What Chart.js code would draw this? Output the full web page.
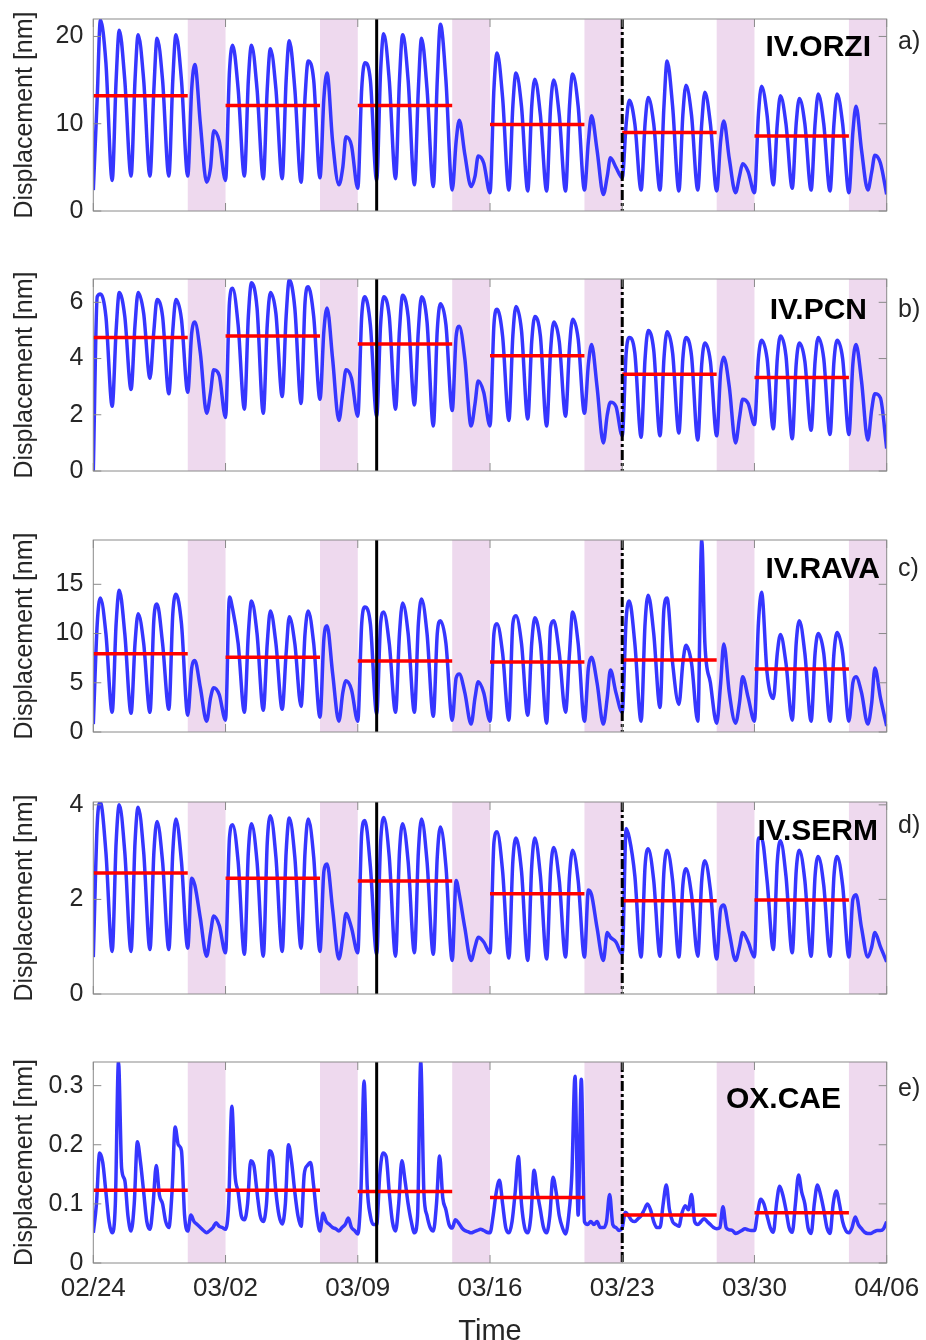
<!DOCTYPE html>
<html>
<head>
<meta charset="utf-8">
<script src="https://cdn.jsdelivr.net/npm/chart.js@4.4.1/dist/chart.umd.min.js"></script>
<style>
  html, body { margin: 0; padding: 0; background: #fff; }
  body { position: relative; width: 926px; height: 1340px; overflow: hidden; }
  canvas { position: absolute; left: 0; }
</style>
</head>
<body>
<script>
// ---- data (days since 02/24, 00:00) ----
const dayTicks = [0, 7, 14, 21, 28, 35, 42];
const dateLabels = ['02/24', '03/02', '03/09', '03/16', '03/23', '03/30', '04/06'];
const weekendSpans = [[5, 7], [12, 14], [19, 21], [26, 28], [33, 35], [40, 42]];
const weekdaySpans = [[0, 5], [7, 12], [14, 19], [21, 26], [28, 33], [35, 40]];
const eventDays = [15, 28]; // solid line, dash-dot line

const stations = ['IV.ORZI', 'IV.PCN', 'IV.RAVA', 'IV.SERM', 'OX.CAE'];
const panelTags = ['a)', 'b)', 'c)', 'd)', 'e)'];
const yTickValues = [[0, 10, 20], [0, 2, 4, 6], [0, 5, 10, 15], [0, 2, 4], [0, 0.1, 0.2, 0.3]];
const yMax = [22, 6.83, 19.5, 4.06, 0.34];

// sample hours inside each day
const hours4 = [0, 5, 9, 16];
const hours6 = [0, 4, 8, 12, 16, 20];

const orzi = [
  2.4, 13, 21.9, 17,   3.5, 15, 20.7, 15,   4.0, 15, 20.2, 15,   4.0, 14, 19.8, 15,
  4.0, 15, 20.2, 15,   4.0, 14, 16.8, 10,   3.3, 5, 9.2, 8,      3.5, 16, 19.0, 14,
  4.0, 15, 19.0, 14,   3.7, 14, 18.6, 14,   3.7, 15, 19.5, 14,   3.3, 13, 17.2, 15,
  3.8, 13, 15.8, 8,    3.0, 5, 8.5, 7.5,    2.6, 14, 17.0, 15,   3.5, 16, 20.3, 15,
  3.7, 15, 20.2, 15,   3.0, 14, 19.8, 14,   2.8, 15, 21.4, 15,   2.4, 8, 10.4, 6.5,
  2.8, 4, 6.3, 5.5,    2.1, 14, 18.1, 13,   2.4, 12, 15.8, 12,   2.3, 12, 15.1, 11,
  2.3, 12, 15.0, 11,   2.3, 12, 15.7, 12,   2.4, 8, 10.9, 7,     1.9, 4, 6.1, 5,
  3.8, 10, 12.7, 10,   2.4, 10, 13.0, 10,   2.4, 12, 17.2, 12,   2.3, 11, 14.4, 11,
  2.4, 10, 13.6, 10,   2.3, 8, 10.3, 6,     2.1, 4, 5.4, 4.5,    2.1, 11, 14.3, 11,
  3.0, 10, 13.2, 10,   2.6, 10, 12.9, 10,   2.4, 10, 13.4, 10,   2.3, 10, 13.4, 10,
  2.1, 9, 12.0, 7,     2.4, 4.5, 6.4, 5.5,
  1.9
];
const pcn = [
  0, 6.2, 6.3, 5.5,      2.3, 5.0, 6.35, 5.5,   2.9, 5.2, 6.35, 5.6,   3.3, 5.0, 6.1, 5.5,
  2.75, 5.0, 6.1, 5.4,   2.8, 4.9, 5.3, 4.2,    2.05, 2.8, 3.6, 3.4,   1.9, 6.0, 6.5, 5.2,
  2.2, 5.5, 6.7, 5.8,    2.05, 5.2, 6.35, 5.6,  2.65, 5.5, 6.8, 5.8,   2.4, 6.0, 6.55, 5.5,
  2.55, 5.0, 5.8, 4.0,   1.8, 2.8, 3.6, 3.3,    1.95, 5.5, 6.2, 5.2,   1.95, 5.2, 6.2, 5.5,
  2.2, 5.0, 6.25, 5.5,   2.35, 5.0, 6.2, 5.3,   1.6, 5.0, 5.95, 5.2,   2.15, 4.8, 5.15, 4.0,
  1.6, 2.4, 3.2, 2.8,    1.6, 5.2, 5.75, 4.8,   1.8, 4.8, 5.85, 5.0,   1.85, 4.6, 5.5, 4.8,
  1.6, 4.3, 5.3, 4.6,    1.95, 4.4, 5.4, 4.7,   2.05, 3.8, 4.5, 3.0,   1.0, 2.0, 2.45, 2.3,
  1.25, 4.2, 4.75, 4.2,  1.2, 4.0, 5.0, 4.3,    1.25, 4.0, 4.95, 4.2,  1.35, 4.0, 4.75, 4.1,
  1.1, 3.8, 4.55, 3.9,   1.25, 3.5, 4.05, 3.0,  1.0, 1.9, 2.55, 2.4,   1.65, 4.0, 4.65, 4.0,
  1.5, 4.0, 4.8, 4.1,    1.15, 3.8, 4.55, 3.9,  1.45, 3.9, 4.75, 4.0,  1.3, 3.9, 4.65, 4.0,
  1.3, 3.8, 4.5, 3.2,    1.1, 2.2, 2.75, 2.6,
  0.8
];
const rava = [
  0.8, 11, 13.6, 10,    2.0, 11, 14.4, 10,    1.9, 9, 12.0, 9,      2.0, 11.5, 13.0, 9,
  2.3, 12, 14.0, 11,    1.7, 6.5, 7.25, 4.5,  1.1, 3.5, 4.5, 3.8,   1.2, 13.7, 12.5, 9,
  2.0, 10, 13.3, 10,    2.2, 9, 12.3, 9,      2.3, 8, 11.7, 9,      2.6, 10, 12.3, 9,
  1.5, 9.5, 10.8, 6,    1.1, 4, 5.2, 4.3,     1.1, 11, 12.7, 11,    1.85, 11, 12.2, 9,
  2.0, 10, 13.1, 10,    2.0, 11, 13.5, 10,    1.6, 10, 11.3, 9,     1.2, 5.5, 5.9, 4.0,
  0.8, 3.5, 5.1, 4,     1.1, 10, 11.0, 8,     1.2, 11, 11.8, 9,     1.7, 9, 11.6, 9,
  0.9, 10.7, 11.3, 8,   2.0, 8, 12.2, 9,      1.1, 6.5, 7.6, 5,     0.8, 3.5, 6.3, 4,
  2.0, 11.5, 13.3, 9,   1.1, 11, 13.9, 10,    2.5, 12.5, 13.6, 7,   2.8, 7, 8.8, 7,
  1.1, 19.5, 9, 5,      0.9, 4.9, 8.95, 4,    0.9, 3, 5.6, 3.5,     1.1, 11, 14.2, 6,
  3.4, 8, 9.9, 7,       1.2, 9, 11.3, 8,      1.1, 8, 10.0, 8,      1.1, 8, 10.1, 8,
  1.1, 5, 5.6, 4,       0.8, 3, 6.5, 3.5,
  0.6
];
const serm = [
  0.78, 3.6, 4.05, 3.0,  0.9, 3.2, 4.0, 3.0,    0.9, 3.2, 3.95, 3.0,   0.94, 3.0, 3.65, 2.8,
  0.94, 3.0, 3.7, 2.8,   0.97, 2.45, 2.3, 1.6,  0.8, 1.3, 1.65, 1.45,  0.87, 3.3, 3.58, 2.8,
  0.84, 3.0, 3.6, 2.8,   0.8, 3.2, 3.77, 2.9,   0.9, 3.0, 3.72, 2.9,   0.97, 3.0, 3.7, 2.9,
  0.9, 2.6, 2.75, 1.8,   0.74, 1.2, 1.7, 1.4,   0.87, 3.4, 3.67, 2.7,  0.84, 3.2, 3.73, 2.9,
  0.8, 3.0, 3.6, 2.8,    0.87, 3.0, 3.7, 2.8,   0.84, 2.9, 3.53, 2.7,  0.71, 2.4, 2.1, 1.4,
  0.71, 1.0, 1.2, 1.1,   0.87, 3.2, 3.43, 2.6,  0.76, 2.8, 3.3, 2.6,   0.71, 2.7, 3.3, 2.5,
  0.74, 2.6, 3.1, 2.4,   0.78, 2.5, 3.04, 2.4,  0.78, 2.2, 2.1, 1.4,   0.71, 1.3, 1.2, 1.1,
  0.84, 3.5, 3.3, 2.5,   0.78, 2.7, 3.07, 2.4,  0.8, 2.6, 3.04, 2.4,   0.78, 2.3, 2.65, 2.1,
  0.8, 2.4, 2.82, 2.2,   0.74, 1.8, 1.88, 1.3,  0.71, 1.0, 1.3, 1.1,   0.78, 3.3, 3.3, 2.4,
  0.94, 2.8, 3.24, 2.5,  0.87, 2.6, 3.04, 2.4,  0.8, 2.5, 2.91, 2.3,   0.8, 2.5, 2.91, 2.3,
  0.78, 2.0, 2.1, 1.4,   0.78, 1.0, 1.3, 1.0,
  0.68
];
const cae = [
  0.051, 0.1, 0.186, 0.17, 0.12, 0.07,     0.051, 0.1, 0.34, 0.16, 0.14, 0.08,
  0.054, 0.1, 0.205, 0.17, 0.12, 0.07,     0.057, 0.1, 0.165, 0.115, 0.1, 0.07,
  0.06, 0.12, 0.23, 0.2, 0.19, 0.08,       0.054, 0.081, 0.07, 0.065, 0.06, 0.055,
  0.051, 0.055, 0.06, 0.068, 0.062, 0.06,  0.057, 0.1, 0.265, 0.15, 0.12, 0.08,
  0.073, 0.1, 0.173, 0.165, 0.12, 0.08,    0.07, 0.1, 0.19, 0.18, 0.12, 0.08,
  0.066, 0.1, 0.2, 0.17, 0.12, 0.08,       0.062, 0.15, 0.165, 0.17, 0.13, 0.08,
  0.054, 0.084, 0.07, 0.065, 0.06, 0.058,  0.054, 0.06, 0.065, 0.076, 0.06, 0.055,
  0.049, 0.12, 0.308, 0.13, 0.08, 0.065,   0.065, 0.15, 0.186, 0.18, 0.12, 0.07,
  0.054, 0.1, 0.173, 0.14, 0.1, 0.07,      0.051, 0.08, 0.34, 0.12, 0.08, 0.06,
  0.054, 0.1, 0.181, 0.11, 0.09, 0.065,    0.059, 0.073, 0.068, 0.06, 0.055, 0.053,
  0.051, 0.053, 0.055, 0.057, 0.055, 0.052, 0.051, 0.08, 0.12, 0.14, 0.1, 0.06,
  0.051, 0.07, 0.12, 0.18, 0.1, 0.06,      0.051, 0.08, 0.157, 0.12, 0.09, 0.06,
  0.051, 0.08, 0.145, 0.12, 0.08, 0.06,    0.049, 0.08, 0.15, 0.316, 0.081, 0.311,
  0.07, 0.065, 0.07, 0.065, 0.07, 0.06,    0.06, 0.07, 0.116, 0.065, 0.06, 0.055,
  0.06, 0.086, 0.08, 0.072, 0.07, 0.075,   0.08, 0.09, 0.1, 0.09, 0.07, 0.06,
  0.06, 0.1, 0.132, 0.09, 0.07, 0.065,     0.062, 0.085, 0.097, 0.09, 0.116, 0.07,
  0.065, 0.07, 0.075, 0.07, 0.065, 0.06,   0.058, 0.06, 0.095, 0.06, 0.056, 0.055,
  0.05, 0.052, 0.055, 0.058, 0.056, 0.055, 0.055, 0.085, 0.108, 0.1, 0.08, 0.06,
  0.052, 0.1, 0.13, 0.115, 0.09, 0.06,     0.052, 0.1, 0.149, 0.12, 0.1, 0.06,
  0.05, 0.1, 0.132, 0.115, 0.09, 0.06,     0.05, 0.1, 0.122, 0.1, 0.07, 0.055,
  0.051, 0.06, 0.078, 0.065, 0.058, 0.052, 0.05, 0.05, 0.053, 0.055, 0.055, 0.058,
  0.07
];

// weekday means (red bars)
const orziMean = [13.2, 12.1, 12.1, 9.9, 9.0, 8.6];
const pcnMean = [4.75, 4.8, 4.52, 4.1, 3.44, 3.33];
const ravaMean = [7.95, 7.6, 7.2, 7.1, 7.3, 6.4];
const sermMean = [2.56, 2.45, 2.39, 2.12, 1.97, 1.99];
const caeMean = [0.123, 0.123, 0.121, 0.111, 0.081, 0.085];

const seriesList = [orzi, pcn, rava, serm, cae];
const hoursList = [hours4, hours4, hours4, hours4, hours6];
const meanList = [orziMean, pcnMean, ravaMean, sermMean, caeMean];

// ---- layout / style ----
const FONT = "'Liberation Sans', Arial, Helvetica, sans-serif";
const BLUE = '#3636ff';
const RED = '#ff0000';
const WEEKEND_FILL = '#eed9ee';
const AXIS_GREY = '#8a8a8a';
const plotTops = [10, 270, 530.7, 792.7, 1053.3];
const PLOT_H = 210;
const PAD_TOP = 16;
const Y_AXIS_W = 93.3;
const RIGHT_PAD = 39.3;
const stationAnchor = [[871, 29], [867, 32], [880, 30], [878, 30], [841, 38]];
const tagOffsetY = [23, 31, 29, 24, 27];
const TAG_X = 898;

Chart.defaults.font.family = FONT;
Chart.defaults.color = '#262626';

function toPoints(values, hours) {
  const n = hours.length;
  return values.map((v, k) => ({ x: Math.floor(k / n) + hours[k % n] / 24, y: v }));
}

function meanSegments(means) {
  return weekdaySpans.flatMap(([s, e], w) => [{ x: s, y: means[w] }, { x: e, y: means[w] }, { x: e, y: null }]);
}

const matlabAxes = {
  id: 'matlabAxes',
  beforeDatasetsDraw(chart) {
    const { ctx, chartArea: a, scales: { x } } = chart;
    ctx.save();
    ctx.fillStyle = WEEKEND_FILL;
    weekendSpans.forEach(([s, e]) => {
      const x0 = x.getPixelForValue(s), x1 = x.getPixelForValue(e);
      ctx.fillRect(x0, a.top, x1 - x0, a.bottom - a.top);
    });
    ctx.restore();
  },
  afterDatasetsDraw(chart, args, opts) {
    const { ctx, chartArea: a, scales: { x, y } } = chart;
    const i = opts.panel;
    ctx.save();

    // event lines
    ctx.strokeStyle = '#000';
    ctx.lineWidth = 3;
    eventDays.forEach((d, k) => {
      ctx.setLineDash(k === 0 ? [] : [10, 3, 3, 3]);
      const px = x.getPixelForValue(d);
      ctx.beginPath();
      ctx.moveTo(px, a.top);
      ctx.lineTo(px, a.bottom);
      ctx.stroke();
    });
    ctx.setLineDash([]);

    // box with inward ticks
    ctx.strokeStyle = AXIS_GREY;
    ctx.lineWidth = 1;
    ctx.strokeRect(a.left, a.top, a.right - a.left, a.bottom - a.top);
    const tl = 8;
    ctx.beginPath();
    dayTicks.forEach(d => {
      const px = x.getPixelForValue(d);
      ctx.moveTo(px, a.bottom); ctx.lineTo(px, a.bottom - tl);
      ctx.moveTo(px, a.top); ctx.lineTo(px, a.top + tl);
    });
    yTickValues[i].forEach(v => {
      const py = y.getPixelForValue(v);
      ctx.moveTo(a.left, py); ctx.lineTo(a.left + tl, py);
      ctx.moveTo(a.right, py); ctx.lineTo(a.right - tl, py);
    });
    ctx.stroke();

    // station name and panel letter
    ctx.fillStyle = '#000';
    ctx.font = 'bold 30px ' + FONT;
    ctx.textAlign = 'right';
    ctx.textBaseline = 'middle';
    ctx.fillText(stations[i], stationAnchor[i][0], a.top + stationAnchor[i][1]);
    ctx.fillStyle = '#262626';
    ctx.font = '25px ' + FONT;
    ctx.textAlign = 'left';
    ctx.fillText(panelTags[i], TAG_X, a.top + tagOffsetY[i]);
    ctx.restore();
  }
};

seriesList.forEach((values, i) => {
  const isBottom = i === seriesList.length - 1;
  const xAxisH = isBottom ? 86 : 16;
  const height = PAD_TOP + PLOT_H + xAxisH;
  const canvas = document.createElement('canvas');
  canvas.width = 926;
  canvas.height = height;
  canvas.style.width = '926px';
  canvas.style.height = height + 'px';
  canvas.style.top = (plotTops[i] - PAD_TOP) + 'px';
  document.body.appendChild(canvas);

  new Chart(canvas, {
    type: 'line',
    data: {
      datasets: [
        {
          data: toPoints(values, hoursList[i]),
          borderColor: BLUE,
          borderWidth: 3.5,
          pointRadius: 0,
          cubicInterpolationMode: 'monotone',
          order: 2
        },
        {
          data: meanSegments(meanList[i]),
          borderColor: RED,
          borderWidth: 3.5,
          pointRadius: 0,
          spanGaps: false,
          order: 1
        }
      ]
    },
    options: {
      responsive: false,
      animation: false,
      devicePixelRatio: 1,
      layout: { padding: { top: PAD_TOP, right: RIGHT_PAD, bottom: 0, left: 0 } },
      plugins: {
        legend: { display: false },
        tooltip: { enabled: false },
        matlabAxes: { panel: i }
      },
      scales: {
        x: {
          type: 'linear',
          min: 0,
          max: 42,
          grid: { display: false, drawTicks: false },
          border: { display: false },
          afterBuildTicks: s => { s.ticks = dayTicks.map(v => ({ value: v })); },
          ticks: {
            display: isBottom,
            autoSkip: false,
            maxRotation: 0,
            padding: 10,
            color: '#262626',
            font: { size: 26 },
            callback: v => dateLabels[dayTicks.indexOf(v)]
          },
          title: { display: isBottom, text: 'Time', color: '#262626', font: { size: 29 }, padding: 0 },
          afterFit: s => { s.height = xAxisH; s.paddingLeft = 0; s.paddingRight = 0; }
        },
        y: {
          min: 0,
          max: yMax[i],
          grid: { display: false, drawTicks: false },
          border: { display: false },
          afterBuildTicks: s => { s.ticks = yTickValues[i].map(v => ({ value: v })); },
          ticks: { padding: 10, color: '#262626', font: { size: 25 }, callback: v => String(v) },
          title: { display: true, text: 'Displacement [nm]', color: '#262626', font: { size: 25 }, padding: { top: 10, bottom: 0 } },
          afterFit: s => { s.width = Y_AXIS_W; }
        }
      }
    },
    plugins: [matlabAxes]
  });
});
</script>
</body>
</html>
